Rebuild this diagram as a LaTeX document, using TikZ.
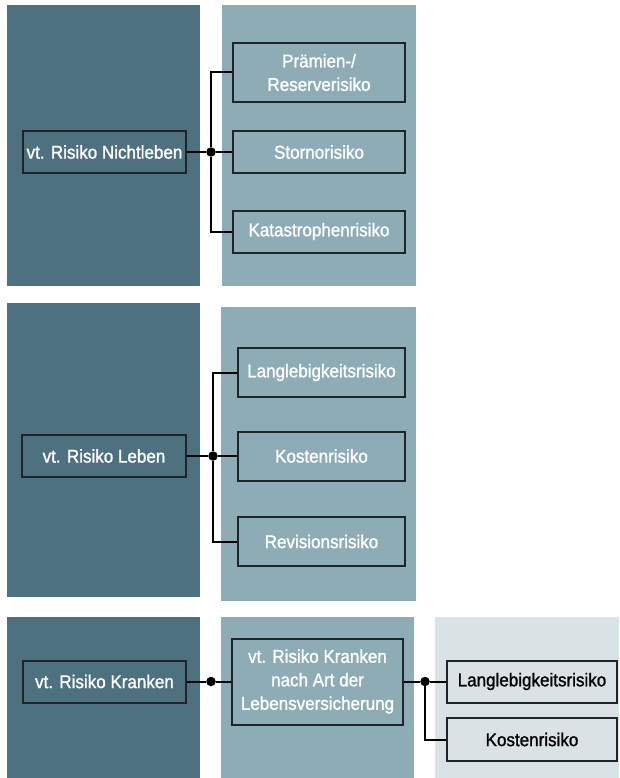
\documentclass[tikz,border=0pt]{standalone}
\usepackage{fontspec}
\setmainfont{Liberation Sans}
\newfontfamily\boxfont[FakeStretch=0.92,FakeBold=1.2]{Liberation Sans}
\definecolor{darkpanel}{RGB}{78,113,127}
\definecolor{midpanel}{RGB}{141,172,182}
\definecolor{palepanel}{RGB}{217,227,230}
\definecolor{boxline}{RGB}{30,36,40}
\begin{document}
\begin{tikzpicture}[x=1pt,y=-1pt]
\tikzstyle{box}=[draw=boxline, line width=2pt, inner sep=0pt, align=center, text=white, font=\boxfont\fontsize{18.5}{23.5}\selectfont]
\tikzstyle{dot}=[circle, fill=black, inner sep=0pt, minimum size=9.5pt]
\tikzstyle{link}=[line width=2pt, black]
    \useasboundingbox (0,0) rectangle (619,778);
    % panels
    \fill [darkpanel] (7,5) rectangle (200,286);
    \fill [midpanel] (222,5) rectangle (416,286);
    \fill [darkpanel] (7,303) rectangle (200,597);
    \fill [midpanel] (221,307) rectangle (416,601);
    \fill [darkpanel] (7,617) rectangle (200,778);
    \fill [midpanel] (221,617) rectangle (414,778);
    \fill [palepanel] (435,617) rectangle (619,778);
    % Nichtleben
    \node [box, minimum width=163pt, minimum height=42pt] (nl) at (104.5,152) {vt. Risiko Nichtleben};
    \node [box, minimum width=172pt, minimum height=59pt] (pr) at (319,72.5) {Prämien-/\\Reserverisiko};
    \node [box, minimum width=172pt, minimum height=42pt] (st) at (319,152) {Stornorisiko};
    \node [box, minimum width=172pt, minimum height=42pt] (ka) at (319,231.5) {Katastrophenrisiko};
    \node [dot] (j1) at (211,152) {};
    \draw [link] (nl) to (j1);
    \draw [link] (j1) |- (pr);
    \draw [link] (j1) to (st);
    \draw [link] (j1) |- (ka);
    % Leben
    \node [box, minimum width=164pt, minimum height=42pt] (lb) at (104,456) {vt. Risiko Leben};
    \node [box, minimum width=167pt, minimum height=49pt] (ll) at (321.5,372.5) {Langlebigkeitsrisiko};
    \node [box, minimum width=167pt, minimum height=49pt] (ko) at (321.5,456) {Kostenrisiko};
    \node [box, minimum width=167pt, minimum height=49pt] (rv) at (321.5,541.5) {Revisionsrisiko};
    \node [dot] (j2) at (213,456) {};
    \draw [link] (lb) to (j2);
    \draw [link] (j2) |- (ll);
    \draw [link] (j2) to (ko);
    \draw [link] (j2) |- (rv);
    % Kranken
    \node [box, minimum width=163pt, minimum height=42pt] (kr) at (104.5,681.5) {vt. Risiko Kranken};
    \node [box, minimum width=171pt, minimum height=86pt] (ka2) at (317.5,681.5) {vt. Risiko Kranken\\nach Art der\\Lebensversicherung};
    \node [box, text=black, minimum width=170pt, minimum height=42pt] (ll2) at (532,681.5) {Langlebigkeitsrisiko};
    \node [box, text=black, minimum width=170pt, minimum height=43pt] (ko2) at (532,739.5) {Kostenrisiko};
    \node [dot] (j3) at (211,681.5) {};
    \node [dot] (j4) at (425,681.5) {};
    \draw [link] (kr) to (j3);
    \draw [link] (j3) to (ka2);
    \draw [link] (ka2) to (j4);
    \draw [link] (j4) to (ll2);
    \draw [link] (j4) |- (ko2);
\end{tikzpicture}
\end{document}
